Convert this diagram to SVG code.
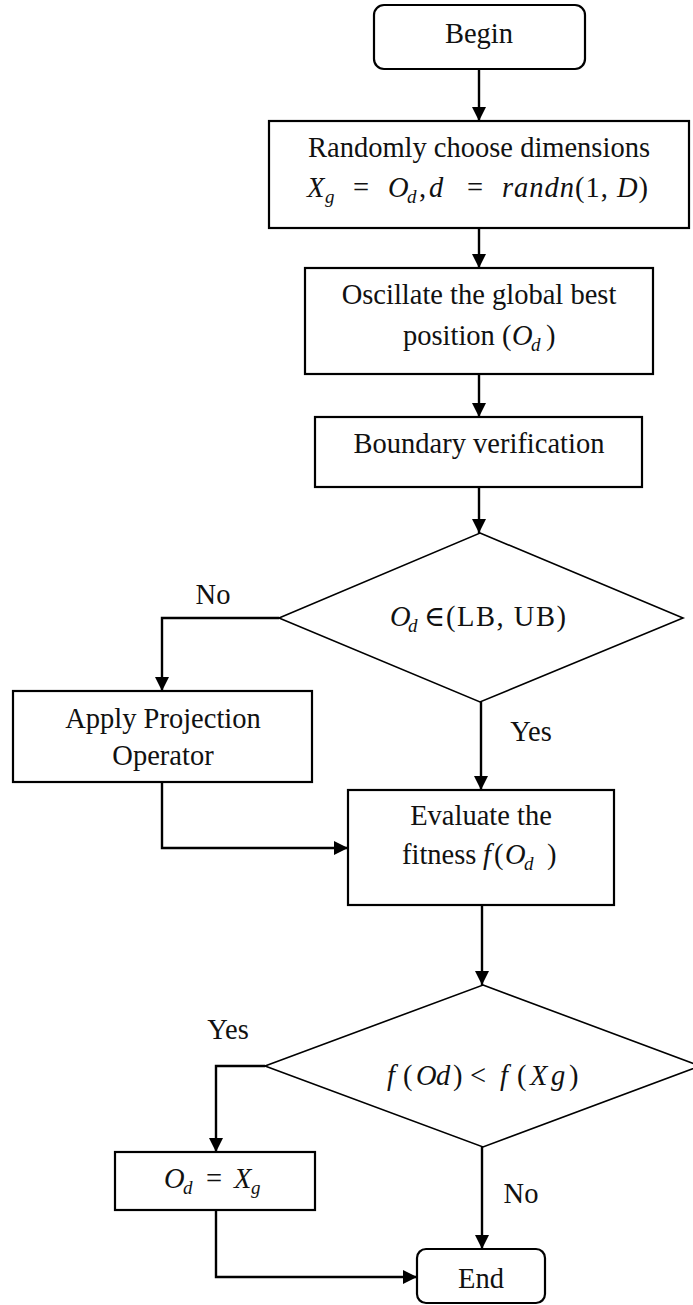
<svg xmlns="http://www.w3.org/2000/svg" width="693" height="1305" viewBox="0 0 693 1305">
  <style>
    .box { fill: #ffffff; stroke: #000000; stroke-width: 2.2; }
    .dia { fill: #ffffff; stroke: #000000; stroke-width: 1.6; }
    .edge { fill: none; stroke: #000000; stroke-width: 2.4; }
    text { font-family: "Liberation Serif", "Times New Roman", Times, "DejaVu Serif", serif; font-size: 28.5px; fill: #111111; }
    .c { text-anchor: middle; }
    .i { font-style: italic; }
    .sub { font-style: italic; font-size: 19px; }
  </style>
  <defs>
    <marker id="arrow" markerUnits="userSpaceOnUse" markerWidth="14" markerHeight="14" refX="14" refY="7" orient="auto">
      <path d="M0,0 L14,7 L0,14 z" fill="#000000"/>
    </marker>
  </defs>

  <!-- connectors -->
  <g id="connectors">
    <path class="edge" d="M479,69 V121" marker-end="url(#arrow)"/>
    <path class="edge" d="M479,228 V268" marker-end="url(#arrow)"/>
    <path class="edge" d="M479,374 V417" marker-end="url(#arrow)"/>
    <path class="edge" d="M479,487 V533" marker-end="url(#arrow)"/>
    <path class="edge" d="M279,618 H162 V691" marker-end="url(#arrow)"/>
    <path class="edge" d="M481,702 V790" marker-end="url(#arrow)"/>
    <path class="edge" d="M162,782 V848 H348" marker-end="url(#arrow)"/>
    <path class="edge" d="M482,905 V985" marker-end="url(#arrow)"/>
    <path class="edge" d="M265,1066 H216 V1152" marker-end="url(#arrow)"/>
    <path class="edge" d="M482,1147 V1249" marker-end="url(#arrow)"/>
    <path class="edge" d="M216,1210 V1277 H417" marker-end="url(#arrow)"/>
    <text x="213" y="604" class="c">No</text>
    <text x="531" y="741" class="c">Yes</text>
    <text x="228" y="1039" class="c">Yes</text>
    <text x="521" y="1203" class="c">No</text>
  </g>

  <g id="begin">
    <rect class="box" x="374" y="5" width="211" height="64" rx="10"/>
    <text x="479" y="43" class="c">Begin</text>
  </g>

  <g id="choose-dimensions">
    <rect class="box" x="269" y="121" width="420" height="107"/>
    <text x="479" y="157" class="c">Randomly choose dimensions</text>
    <text y="197">
      <tspan x="307" class="i">X</tspan>
      <tspan x="325" y="203" class="sub">g</tspan>
      <tspan x="353" y="197">=</tspan>
      <tspan x="388" class="i">O</tspan>
      <tspan x="407" y="203" class="sub">d</tspan>
      <tspan x="419" y="197">,</tspan>
      <tspan x="429" class="i">d</tspan>
      <tspan x="467">=</tspan>
    </text>
    <text x="502" y="197" textLength="146" lengthAdjust="spacing"><tspan class="i">randn</tspan>(1, <tspan class="i">D</tspan>)</text>
  </g>

  <g id="oscillate">
    <rect class="box" x="305" y="268" width="348" height="106"/>
    <text x="479" y="304" class="c">Oscillate the global best</text>
    <text y="345">
      <tspan x="403">position (</tspan>
      <tspan x="512" class="i">O</tspan>
      <tspan x="531" y="351" class="sub">d</tspan>
      <tspan x="546" y="345">)</tspan>
    </text>
  </g>

  <g id="boundary">
    <rect class="box" x="315" y="417" width="327" height="70"/>
    <text x="479" y="453" class="c">Boundary verification</text>
  </g>

  <g id="in-bounds">
    <polygon class="dia" points="480,533 683,618 480,702 279,618"/>
    <text y="626">
      <tspan x="390" class="i">O</tspan>
      <tspan x="408" y="632" class="sub">d</tspan>
      <tspan x="424" y="626">∈</tspan>
    </text>
    <text x="446" y="626" textLength="120" lengthAdjust="spacing">(LB, UB)</text>
  </g>

  <g id="projection">
    <rect class="box" x="13" y="691" width="299" height="91"/>
    <text x="163" y="728" class="c">Apply Projection</text>
    <text x="163" y="765" class="c">Operator</text>
  </g>

  <g id="evaluate">
    <rect class="box" x="348" y="790" width="266" height="115"/>
    <text x="481" y="825" class="c">Evaluate the</text>
    <text y="864">
      <tspan x="402">fitness</tspan>
      <tspan x="483" class="i">f</tspan>
      <tspan x="494">(</tspan>
      <tspan x="505" class="i">O</tspan>
      <tspan x="524" y="870" class="sub">d</tspan>
      <tspan x="547" y="864">)</tspan>
    </text>
  </g>

  <g id="compare">
    <polygon class="dia" points="483,985 700,1066 483,1147 265,1066"/>
    <text y="1085">
      <tspan x="387" class="i">f</tspan>
      <tspan x="403">(</tspan>
      <tspan x="416" class="i">O</tspan>
      <tspan x="436" class="i">d</tspan>
      <tspan x="453">)</tspan>
      <tspan x="470">&lt;</tspan>
      <tspan x="500" class="i">f</tspan>
      <tspan x="517">(</tspan>
      <tspan x="530" class="i">X</tspan>
      <tspan x="551" class="i">g</tspan>
      <tspan x="569">)</tspan>
    </text>
  </g>

  <g id="update-best">
    <rect class="box" x="115" y="1152" width="200" height="58"/>
    <text y="1188">
      <tspan x="164" class="i">O</tspan>
      <tspan x="183" y="1194" class="sub">d</tspan>
      <tspan x="206" y="1188">=</tspan>
      <tspan x="234" class="i">X</tspan>
      <tspan x="251" y="1194" class="sub">g</tspan>
    </text>
  </g>

  <g id="end">
    <rect class="box" x="417" y="1249" width="128" height="54" rx="9"/>
    <text x="481" y="1288" class="c">End</text>
  </g>
</svg>
